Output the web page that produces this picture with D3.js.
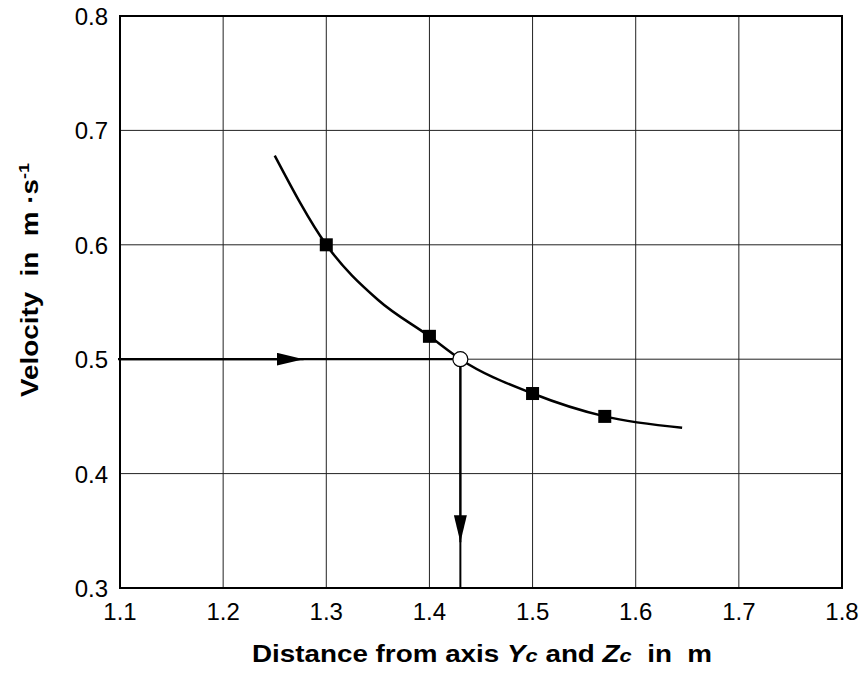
<!DOCTYPE html>
<html>
<head>
<meta charset="utf-8">
<script src="https://cdn.jsdelivr.net/npm/d3@7"></script>
<style>
  body { margin: 0; background: #fff; }
  text { font-family: "Liberation Sans", Arial, sans-serif; }
</style>
</head>
<body>
<div id="chart"></div>
<script>
// curve through the measured points
let curveX = [1.25, 1.3, 1.35, 1.4, 1.43, 1.5, 1.57, 1.645];
let curveY = [0.678, 0.6, 0.552, 0.52, 0.5, 0.47, 0.45, 0.44];
// square markers
let markX = [1.3, 1.4, 1.5, 1.57];
let markY = [0.6, 0.52, 0.47, 0.45];
// read-off point
let readX = 1.43;
let readY = 0.5;
let xTicks = [1.1, 1.2, 1.3, 1.4, 1.5, 1.6, 1.7, 1.8];
let yTicks = [0.3, 0.4, 0.5, 0.6, 0.7, 0.8];

let width = 864, height = 673;
let margin = {top: 16, right: 22, bottom: 85, left: 120};

let svg = d3.select("#chart").append("svg")
    .attr("width", width)
    .attr("height", height);

let x = d3.scaleLinear().domain([1.1, 1.8]).range([margin.left, width - margin.right]);
let y = d3.scaleLinear().domain([0.3, 0.8]).range([height - margin.bottom, margin.top]);

// grid
svg.append("g").selectAll("line").data(xTicks.slice(1, -1)).enter().append("line")
    .attr("x1", d => x(d)).attr("x2", d => x(d))
    .attr("y1", y(0.3)).attr("y2", y(0.8))
    .attr("stroke", "#222").attr("stroke-width", 1);
svg.append("g").selectAll("line").data(yTicks.slice(1, -1)).enter().append("line")
    .attr("y1", d => y(d)).attr("y2", d => y(d))
    .attr("x1", x(1.1)).attr("x2", x(1.8))
    .attr("stroke", "#222").attr("stroke-width", 1);

// frame
svg.append("rect")
    .attr("x", x(1.1)).attr("y", y(0.8))
    .attr("width", x(1.8) - x(1.1)).attr("height", y(0.3) - y(0.8))
    .attr("fill", "none").attr("stroke", "#000").attr("stroke-width", 2);

// tick labels
svg.append("g").selectAll("text").data(xTicks).enter().append("text")
    .attr("x", d => x(d)).attr("y", y(0.3) + 32)
    .attr("text-anchor", "middle").style("font-size", "24px")
    .text(d => d3.format(".1f")(d));
svg.append("g").selectAll("text").data(yTicks).enter().append("text")
    .attr("x", x(1.1) - 12).attr("y", d => y(d) + 9)
    .attr("text-anchor", "end").style("font-size", "24px")
    .text(d => d3.format(".1f")(d));

// arrowheads
let defs = svg.append("defs");
defs.append("marker")
    .attr("id", "arr").attr("viewBox", "0 0 10 10")
    .attr("refX", 10).attr("refY", 5)
    .attr("markerWidth", 27).attr("markerHeight", 13)
    .attr("preserveAspectRatio", "none")
    .attr("markerUnits", "userSpaceOnUse")
    .attr("orient", "auto")
    .append("path").attr("d", "M0,0 L10,5 L0,10 Z").attr("fill", "#000");

// horizontal guide
svg.append("line")
    .attr("x1", x(1.1) - 2).attr("x2", x(readX))
    .attr("y1", y(readY)).attr("y2", y(readY))
    .attr("stroke", "#000").attr("stroke-width", 2.2);
svg.append("line")
    .attr("x1", x(1.1)).attr("x2", x(1.278))
    .attr("y1", y(readY)).attr("y2", y(readY))
    .attr("stroke", "#000").attr("stroke-width", 2.2)
    .attr("marker-end", "url(#arr)");

// vertical guide
svg.append("line")
    .attr("x1", x(readX)).attr("x2", x(readX))
    .attr("y1", y(readY)).attr("y2", y(0.3))
    .attr("stroke", "#000").attr("stroke-width", 2);
svg.append("line")
    .attr("x1", x(readX)).attr("x2", x(readX))
    .attr("y1", y(readY)).attr("y2", y(0.34))
    .attr("stroke", "#000").attr("stroke-width", 2)
    .attr("marker-end", "url(#arr)");

// curve
let pts = curveX.map((d, i) => [d, curveY[i]]);
svg.append("path")
    .datum(pts)
    .attr("d", d3.line().x(d => x(d[0])).y(d => y(d[1])).curve(d3.curveMonotoneX))
    .attr("fill", "none").attr("stroke", "#000").attr("stroke-width", 2.5);

// squares
let sq = 13;
svg.append("g").selectAll("rect").data(markX).enter().append("rect")
    .attr("x", d => x(d) - sq / 2)
    .attr("y", (d, i) => y(markY[i]) - sq / 2)
    .attr("width", sq).attr("height", sq)
    .attr("fill", "#000");

// open circle
svg.append("circle")
    .attr("cx", x(readX)).attr("cy", y(readY)).attr("r", 7.5)
    .attr("fill", "#fff").attr("stroke", "#000").attr("stroke-width", 1.2);

// axis titles (the original lettering is a bit wider than Arial, hence the x-stretch)
let xt = svg.append("text")
    .attr("transform", "translate(482, 662) scale(1.21, 1)")
    .attr("text-anchor", "middle").style("font-size", "23px").style("font-weight", "bold")
    .attr("xml:space", "preserve");
xt.append("tspan").text("Distance from axis ");
xt.append("tspan").style("font-style", "italic").text("Y");
xt.append("tspan").style("font-style", "italic").style("font-size", "18px").text("c");
xt.append("tspan").text(" and ");
xt.append("tspan").style("font-style", "italic").text("Z");
xt.append("tspan").style("font-style", "italic").style("font-size", "18px").text("c");
xt.append("tspan").text("  in  m");

let yt = svg.append("text")
    .attr("transform", "translate(38, 397) rotate(-90) scale(1.21, 1)")
    .attr("text-anchor", "start").style("font-size", "23px").style("font-weight", "bold")
    .attr("xml:space", "preserve");
yt.append("tspan").text("Velocity  in  m ·s");
yt.append("tspan").style("font-size", "15px").attr("dy", -9).text("-1");
</script>
</body>
</html>
